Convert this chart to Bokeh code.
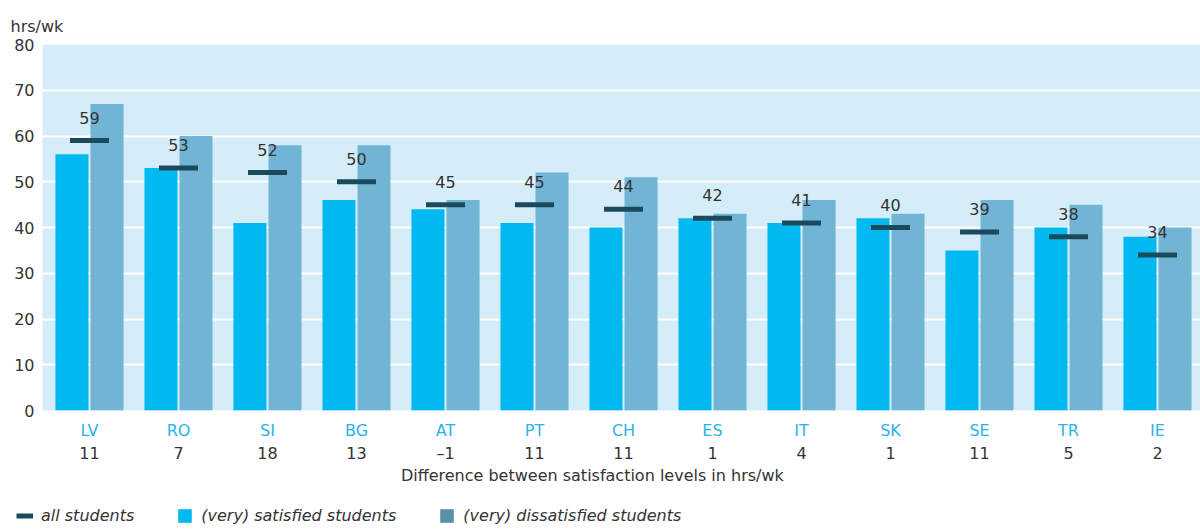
from bokeh.plotting import figure
from bokeh.layouts import column, row
from bokeh.models import (Range1d, FixedTicker, LinearAxis, CustomJSTickFormatter,
                          Legend, LegendItem, ColumnDataSource)
from bokeh.embed import file_html
from bokeh.resources import INLINE
from bokeh.core.properties import value

countries = ["LV", "RO", "SI", "BG", "AT", "PT", "CH", "ES", "IT", "SK", "SE", "TR", "IE"]
differences = ["11", "7", "18", "13", "\u20131", "11", "11", "1", "4", "1", "11", "5", "2"]
satisfied = [56, 53, 41, 46, 44, 41, 40, 42, 41, 42, 35, 40, 38]
dissatisfied = [67, 60, 58, 58, 46, 52, 51, 43, 46, 43, 46, 45, 40]
all_students = [59, 53, 52, 50, 45, 45, 44, 42, 41, 40, 39, 38, 34]
y_ticks = [0, 10, 20, 30, 40, 50, 60, 70, 80]
x_title = "Difference between satisfaction levels in hrs/wk"
y_title = "hrs/wk"
legend_labels = ["all students", "(very) satisfied students", "(very) dissatisfied students"]

FONT = "DejaVu Sans"
TXT = "#333333"
C_SAT = "#00b9f1"
C_DIS = "#72b4d3"
C_DIS_LEG = "#5b92aa"
C_DASH = "#1b4a5d"
C_BG = "#d5ecf9"
C_CAT = "#2ab3ea"

idx = list(range(len(countries)))
src = ColumnDataSource(dict(
    x=idx,
    xs=[i - 0.197 for i in idx],
    xd=[i + 0.197 for i in idx],
    sat=satisfied, dis=dissatisfied, all=all_students,
    lab=[str(v) for v in all_students],
))

p = figure(width=1200, height=490, output_backend="svg", toolbar_location=None,
           x_range=Range1d(-0.528, 12.483), y_range=Range1d(0, 80),
           min_border_left=42, min_border_right=0, min_border_top=44, min_border_bottom=80,
           x_axis_location=None)
p.background_fill_color = C_BG
p.border_fill_color = "white"
p.outline_line_color = None

p.title.text = y_title
p.title.align = "left"
p.title.offset = -32
p.title.standoff = 17
p.title.text_font = FONT
p.title.text_font_size = "16px"
p.title.text_font_style = "normal"
p.title.text_color = TXT

p.xgrid.visible = False
p.ygrid.grid_line_color = "white"
p.ygrid.grid_line_width = 2
p.ygrid.ticker = FixedTicker(ticks=y_ticks)

ya = p.yaxis[0]
ya.ticker = FixedTicker(ticks=y_ticks)
ya.axis_line_color = None
ya.major_tick_line_color = None
ya.minor_tick_line_color = None
ya.major_tick_out = 0
ya.major_label_text_font = FONT
ya.major_label_text_font_size = "16px"
ya.major_label_text_color = TXT
ya.major_label_standoff = 8

p.vbar(x="xs", top="sat", width=0.371, source=src, color=C_SAT, line_color=None)
p.vbar(x="xd", top="dis", width=0.371, source=src, color=C_DIS, line_color=None)
p.rect(x="x", y="all", width=0.438, height=5, height_units="screen", source=src,
       color=C_DASH, line_color=None)
p.text(x="x", y="all", text="lab", source=src, text_align="center",
       text_baseline="alphabetic", y_offset=-23, text_font=value(FONT),
       text_font_size="16px", text_color=TXT)


def make_axis(labels, ticks, color, standoff):
    ax = LinearAxis(ticker=FixedTicker(ticks=ticks),
                    formatter=CustomJSTickFormatter(args=dict(labels=labels),
                                                    code="return labels[index] || '';"))
    ax.axis_line_color = None
    ax.major_tick_line_color = None
    ax.minor_tick_line_color = None
    ax.major_tick_out = 0
    ax.major_tick_in = 0
    ax.major_label_text_font = FONT
    ax.major_label_text_font_size = "16px"
    ax.major_label_text_color = color
    ax.major_label_standoff = standoff
    return ax


p.add_layout(make_axis(countries, idx, C_CAT, 10), "below")
p.add_layout(make_axis(differences, idx, TXT, 1), "below")
p.add_layout(make_axis([x_title], [5.65], TXT, 0), "below")

# legend strip
q = figure(width=1200, height=39, output_backend="svg", toolbar_location=None,
           x_range=Range1d(0, 1), y_range=Range1d(0, 1),
           min_border_left=0, min_border_right=0, min_border_top=0, min_border_bottom=0,
           x_axis_location=None, y_axis_location=None)
q.grid.visible = False
q.outline_line_color = None
q.background_fill_color = "white"
nan = float("nan")
r_all = q.line(x=[nan], y=[nan], line_color=C_DASH, line_width=5)
r_sat = q.vbar(x=[nan], top=[nan], width=0.3, color=C_SAT, line_color=None)
r_dis = q.vbar(x=[nan], top=[nan], width=0.3, color=C_DIS_LEG, line_color=None)
leg = Legend(items=[LegendItem(label=legend_labels[0], renderers=[r_all]),
                    LegendItem(label=legend_labels[1], renderers=[r_sat]),
                    LegendItem(label=legend_labels[2], renderers=[r_dis])],
             orientation="horizontal", location=(16, 4),
             glyph_width=17, glyph_height=17, label_standoff=8, spacing=42,
             padding=0, margin=0, border_line_color=None, background_fill_alpha=0,
             label_text_font=FONT, label_text_font_size="16px",
             label_text_font_style="italic", label_text_color=TXT)
q.add_layout(leg, "center")

layout = column(p, row(q), spacing=0)
open("out.html", "w").write(file_html(layout, INLINE))
